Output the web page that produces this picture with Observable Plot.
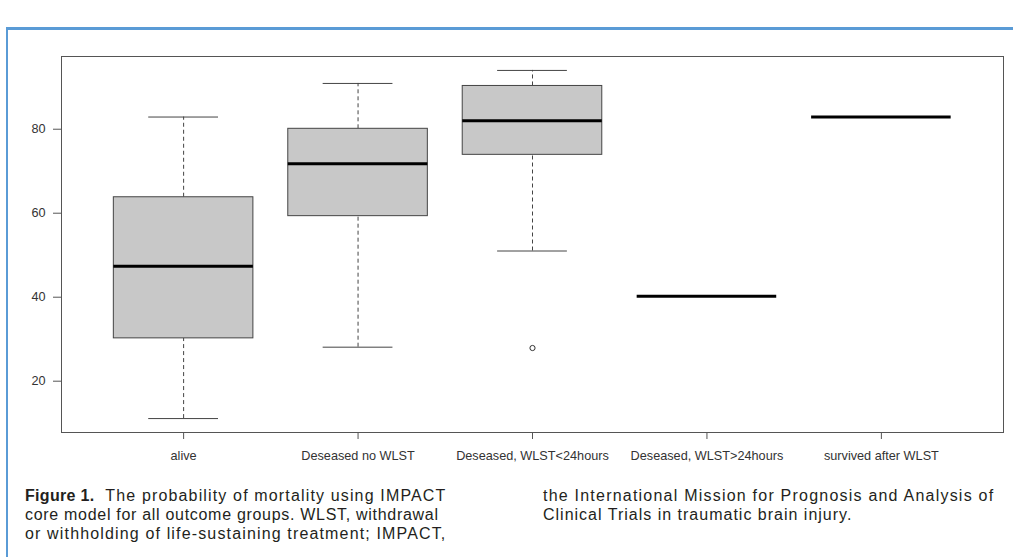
<!DOCTYPE html>
<html>
<head>
<meta charset="utf-8">
<script src="https://cdn.jsdelivr.net/npm/d3@7"></script>
<script src="https://cdn.jsdelivr.net/npm/@observablehq/plot@0.6"></script>
<style>
  html, body { margin: 0; padding: 0; background: #fff; }
  #page { position: relative; width: 1013px; height: 557px; overflow: hidden; background: #fff; }
  #border { position: absolute; left: 6px; top: 27px; width: 1100px; height: 600px;
            border-left: 2px solid #5a9bd6; border-top: 3px solid #5a9bd6; }
  #chart { position: absolute; left: 0; top: 0; }
  .cap { position: absolute; top: 486px; font-family: "Liberation Sans", Arial, sans-serif;
         font-size: 16px; line-height: 19px; color: #231f20; white-space: nowrap; }
  .cap span { display: block; }
  .cap b { letter-spacing: 0.3px; }
</style>
</head>
<body>
<div id="page">
  <div id="border"></div>
  <div id="chart"></div>
  <div class="cap" id="cap1" style="left:25px">
    <span style="letter-spacing:1.15px"><b>Figure 1.</b>&nbsp; The probability of mortality using IMPACT</span>
    <span style="letter-spacing:0.7px">core model for all outcome groups. WLST, withdrawal</span>
    <span style="letter-spacing:1.15px">or withholding of life-sustaining treatment; IMPACT,</span>
  </div>
  <div class="cap" id="cap2" style="left:543px">
    <span style="letter-spacing:1.22px">the International Mission for Prognosis and Analysis of</span>
    <span style="letter-spacing:1.0px">Clinical Trials in traumatic brain injury.</span>
  </div>
</div>
<script>
const categories = ["alive", "Deseased no WLST", "Deseased, WLST<24hours", "Deseased, WLST>24hours", "survived after WLST"];
const whiskerLow  = [11.1, 28.1, 51.0, 40.2, 82.9];
const lowerQuart  = [30.2, 59.3, 73.9, 40.2, 82.9];
const medians     = [47.4, 71.8, 82.0, 40.2, 82.9];
const upperQuart  = [63.8, 80.1, 90.3, 40.2, 82.9];
const whiskerHigh = [82.9, 90.9, 94.0, 40.2, 82.9];
const outlierGroups = ["Deseased, WLST<24hours"];
const outlierValues = [27.9];
const yTicks = [20, 40, 60, 80];

const rows = categories.map((c, k) => ({
  i: k + 1, cat: c, lo: whiskerLow[k], q1: lowerQuart[k], med: medians[k], q3: upperQuart[k], hi: whiskerHigh[k]
}));
const outliers = outlierGroups.map((g, k) => ({ i: categories.indexOf(g) + 1, v: outlierValues[k] }));

const allVals = [...whiskerLow, ...whiskerHigh, ...outlierValues];
const vmin = d3.min(allVals), vmax = d3.max(allVals);
const pad = 0.04 * (vmax - vmin);
const n = categories.length;
const xpad = 0.04 * n;

const half = 0.4, cap = 0.2;
const boxStroke = "#444";

const chart = Plot.plot({
  width: 1013,
  height: 470,
  marginLeft: 61,
  marginRight: 10,
  marginTop: 56,
  marginBottom: 38,
  style: { fontFamily: "Liberation Sans, Arial, sans-serif", fontSize: "12.7px", color: "#333", background: "transparent" },
  x: { domain: [0.5 - xpad, n + 0.5 + xpad] },
  y: { domain: [vmin - pad, vmax + pad] },
  marks: [
    Plot.frame({ stroke: "#555" }),
    Plot.ruleX(rows, { x: "i", y1: "q3", y2: "hi", stroke: boxStroke, strokeDasharray: "4,3" }),
    Plot.ruleX(rows, { x: "i", y1: "lo", y2: "q1", stroke: boxStroke, strokeDasharray: "4,3" }),
    Plot.ruleY(rows, { y: "hi", x1: d => d.i - cap, x2: d => d.i + cap, stroke: boxStroke }),
    Plot.ruleY(rows, { y: "lo", x1: d => d.i - cap, x2: d => d.i + cap, stroke: boxStroke }),
    Plot.rect(rows, { x1: d => d.i - half, x2: d => d.i + half, y1: "q1", y2: "q3", fill: "#c8c8c8", stroke: boxStroke }),
    Plot.ruleY(rows, { y: "med", x1: d => d.i - half, x2: d => d.i + half, stroke: "#000", strokeWidth: 3 }),
    Plot.dot(outliers, { x: "i", y: "v", r: 2.6, stroke: "#333", fill: "none", strokeWidth: 1 }),
    Plot.axisY({ ticks: yTicks, tickSize: 8, tickPadding: 8, stroke: "#555", label: null }),
    Plot.axisX({ ticks: d3.range(1, n + 1), tickFormat: i => categories[i - 1], tickSize: 7, tickPadding: 11, stroke: "#555", label: null })
  ]
});
document.getElementById("chart").appendChild(chart);
</script>
</body>
</html>
